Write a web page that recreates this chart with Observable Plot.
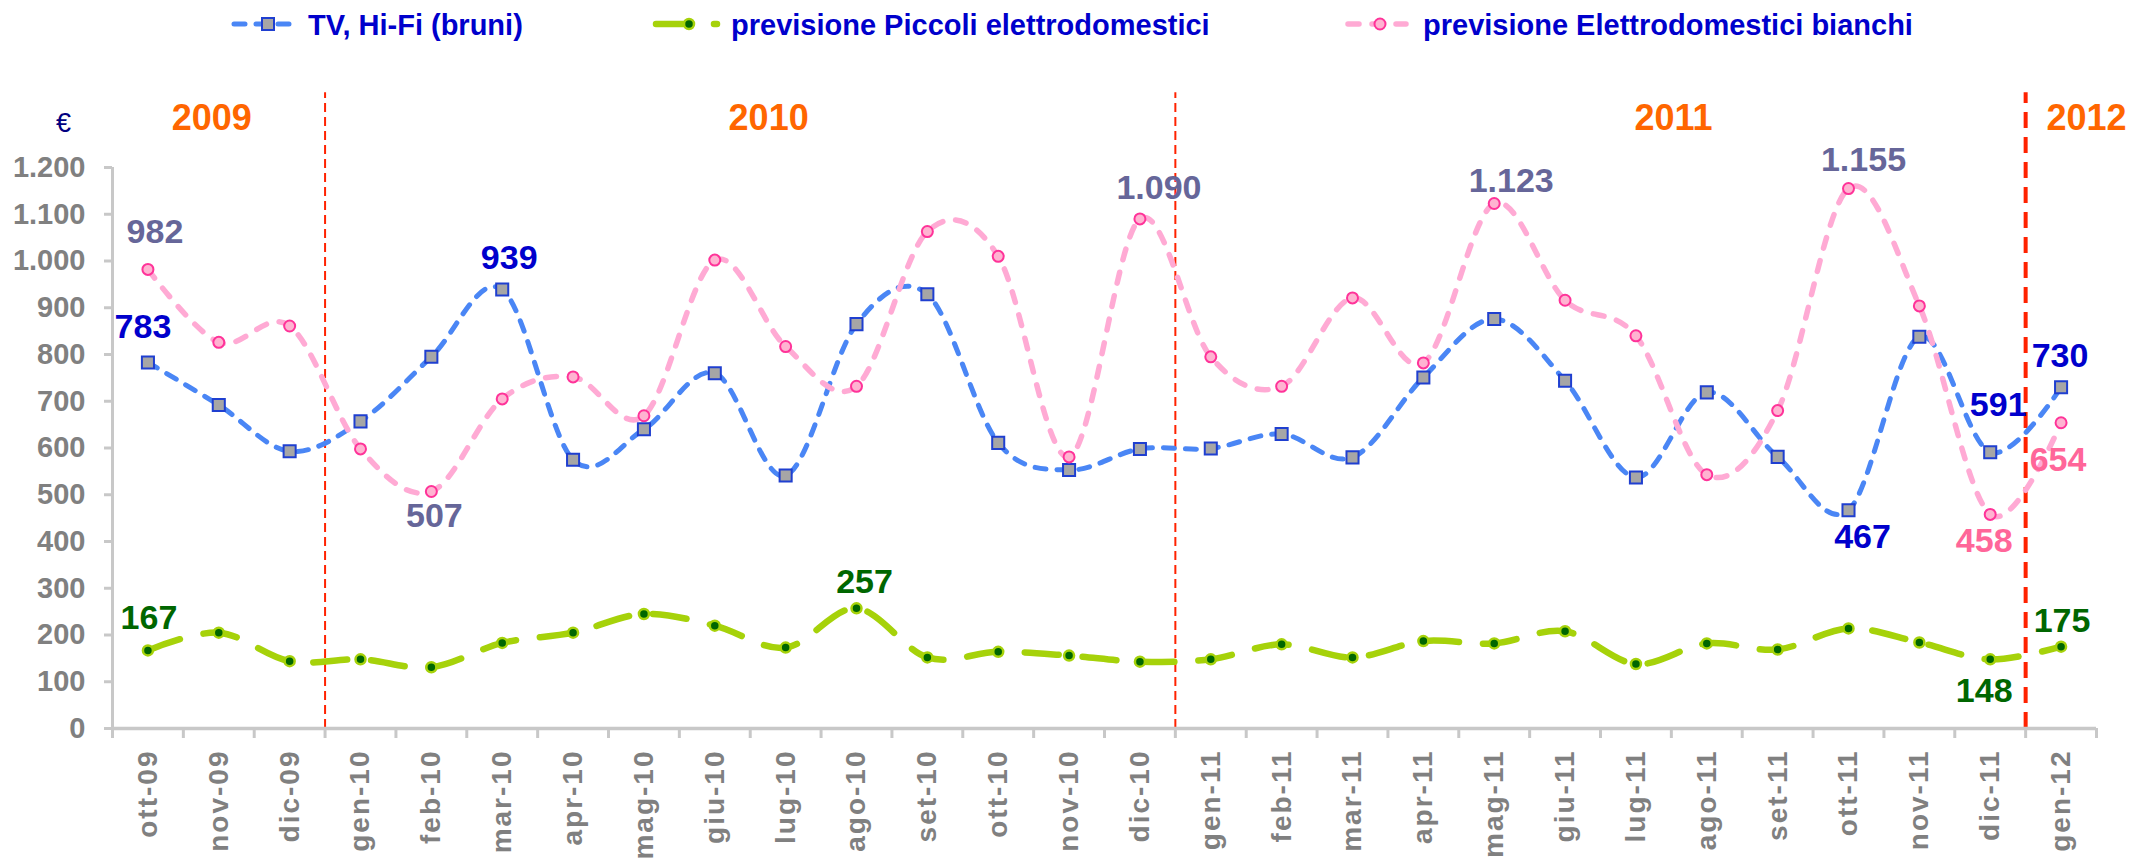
<!DOCTYPE html>
<html><head><meta charset="utf-8">
<script src="https://cdn.jsdelivr.net/npm/d3@7"></script>
<script src="https://cdn.jsdelivr.net/npm/@observablehq/plot@0.6"></script>
<style>
body{margin:0;background:#fff;font-family:"Liberation Sans",Arial,sans-serif;}
#legend,#chart{width:2133px;display:block;}
svg{display:block;}
</style></head><body>
<div id="legend"></div>
<div id="chart"></div>
<script>
// ---------- DATA ----------
const months = ["ott-09","nov-09","dic-09","gen-10","feb-10","mar-10","apr-10","mag-10","giu-10","lug-10","ago-10","set-10","ott-10","nov-10","dic-10","gen-11","feb-11","mar-11","apr-11","mag-11","giu-11","lug-11","ago-11","set-11","ott-11","nov-11","dic-11","gen-12"];
const tvHifi  = [783,692,593,657,795,939,575,640,760,541,865,929,611,553,598,599,630,580,751,876,744,537,719,581,467,838,591,730];
const piccoli = [167,205,144,148,131,183,205,245,220,173,257,152,164,156,143,148,180,152,187,182,208,138,182,169,214,184,148,175];
const bianchi = [982,826,861,598,507,705,752,669,1002,817,732,1063,1010,581,1090,795,732,921,782,1123,916,840,543,680,1155,904,458,654];
const seriesNames = ["TV, Hi-Fi (bruni)","previsione Piccoli elettrodomestici","previsione Elettrodomestici bianchi"];
const years = ["2009","2010","2011","2012"];
const yTicks = [0,100,200,300,400,500,600,700,800,900,1000,1100,1200];
const unit = "€";
// points carrying a value label: [series, month]
const labelled = [
  ["tv","ott-09"],["tv","mar-10"],["tv","ott-11"],["tv","dic-11"],["tv","gen-12"],
  ["bianchi","ott-09"],["bianchi","feb-10"],["bianchi","dic-10"],["bianchi","mag-11"],["bianchi","ott-11"],["bianchi","dic-11"],["bianchi","gen-12"],
  ["piccoli","ott-09"],["piccoli","ago-10"],["piccoli","dic-11"],["piccoli","gen-12"]
];

// ---------- LAYOUT / STYLE ----------
const fontFamily = '"Liberation Sans", Arial, sans-serif';
const labelOffsets = {
  "tv|ott-09":[-5,-35],"tv|mar-10":[7,-31],"tv|ott-11":[14,27],"tv|dic-11":[8,-47],"tv|gen-12":[-1,-31],
  "bianchi|ott-09":[7,-37],"bianchi|feb-10":[3,25],"bianchi|dic-10":[19,-31],"bianchi|mag-11":[17,-22],"bianchi|ott-11":[15,-28],"bianchi|dic-11":[-6,27],"bianchi|gen-12":[-3,37],
  "piccoli|ott-09":[1,-32],"piccoli|ago-10":[8,-26],"piccoli|dic-11":[-6,32],"piccoli|gen-12":[1,-26]
};
const labelColor = {"tv":"#0000cc","piccoli":"#006600","bianchi":"#666699"};
const labelColorOverride = {"bianchi|dic-11":"#ff6699","bianchi|gen-12":"#ff6699"};
const yearPos = [1.40, 9.26, 22.03, 27.86];   // in month units
const yearLabelY = 1304, boundaryTop = 1360;

const sty = {
  tv:{line:"#4a86f5", width:5, dash:"11,11", symbol:"square", r:6.8, fill:"#a6a6a6", stroke:"#1f3fd0", sw:2},
  piccoli:{line:"#a6d20a", width:6.5, dash:"34,24", symbol:"circle", r:5, fill:"#006600", stroke:"#a6d20a", sw:2.5},
  bianchi:{line:"#ffaad4", width:5.5, dash:"11,13", symbol:"circle", r:5.5, fill:"#ffb3d1", stroke:"#ff3399", sw:2}
};

const fmt = d3.formatLocale({decimal:",", thousands:".", grouping:[3], currency:["€",""]}).format(",d");
const valuesBy = {tv:tvHifi, piccoli:piccoli, bianchi:bianchi};
const rows = key => valuesBy[key].map((v,i)=>({x:i+0.5, y:v, m:months[i]}));
const boundaries = months.map((m,i)=>i).filter(i=>i>0 && months[i].slice(-2)!==months[i-1].slice(-2));

// ---------- LEGEND ----------
const lg = d3.select("#legend").append("svg").attr("width",2133).attr("height",55);
const legendItems = [
  {key:"tv", x1:234, x2:293, mx:268, tx:308},
  {key:"piccoli", x1:656, x2:717, mx:689, tx:731},
  {key:"bianchi", x1:1348, x2:1406, mx:1380, tx:1423}
];
legendItems.forEach((it,i)=>{
  const s = sty[it.key];
  lg.append("line").attr("x1",it.x1).attr("x2",it.x2).attr("y1",24).attr("y2",24)
    .attr("stroke",s.line).attr("stroke-width",s.width).attr("stroke-dasharray",s.dash).attr("stroke-linecap","round");
  if (s.symbol==="square") {
    lg.append("rect").attr("x",it.mx-6).attr("y",18).attr("width",12).attr("height",12)
      .attr("fill",s.fill).attr("stroke",s.stroke).attr("stroke-width",s.sw);
  } else {
    lg.append("circle").attr("cx",it.mx).attr("cy",24).attr("r",s.r)
      .attr("fill",s.fill).attr("stroke",s.stroke).attr("stroke-width",s.sw);
  }
  lg.append("text").attr("x",it.tx).attr("y",34.5).text(seriesNames[i])
    .attr("font-family",fontFamily).attr("font-weight","bold").attr("font-size",29).attr("fill","#0000cc");
});

// ---------- CHART ----------
const marks = [];
// red year boundaries
marks.push(Plot.ruleX(boundaries.slice(0,-1), {y1:0, y2:boundaryTop, stroke:"#ff2200", strokeWidth:2, strokeDasharray:"9,5"}));
marks.push(Plot.ruleX(boundaries.slice(-1), {y1:0, y2:boundaryTop, stroke:"#ff2200", strokeWidth:4, strokeDasharray:"16,9"}));
// axes
marks.push(Plot.axisY({ticks:yTicks, tickFormat:fmt, tickSize:8, tickPadding:19, stroke:"#c8c8c8", strokeWidth:3, fill:"#808080", fontSize:29, fontWeight:"bold", label:null}));
marks.push(Plot.ruleX([0], {y1:0, y2:1200, stroke:"#c8c8c8", strokeWidth:3}));
marks.push(Plot.axisX({ticks:d3.range(months.length+1), tickFormat:()=>"", tickSize:10, stroke:"#c8c8c8", strokeWidth:3, label:null}));
marks.push(Plot.axisX({ticks:months.map((m,i)=>i+0.5), tickFormat:d=>months[Math.floor(d)], tickSize:0, tickPadding:21, tickRotate:-90, fill:"#808080", fontSize:28, fontWeight:"bold", label:null}));
marks.push(Plot.ruleY([0], {stroke:"#c8c8c8", strokeWidth:3.5}));
// series
["tv","piccoli","bianchi"].forEach(k=>{
  const s = sty[k];
  marks.push(Plot.line(rows(k), {x:"x", y:"y", curve:"cardinal", stroke:s.line, strokeWidth:s.width, strokeDasharray:s.dash, strokeLinecap:"round"}));
  marks.push(Plot.dot(rows(k), {x:"x", y:"y", symbol:s.symbol, r:s.r, fill:s.fill, stroke:s.stroke, strokeWidth:s.sw}));
});
// value labels
labelled.forEach(([k,m])=>{
  const i = months.indexOf(m);
  const id = k+"|"+m;
  const [dx,dy] = labelOffsets[id];
  marks.push(Plot.text([{x:i+0.5, y:valuesBy[k][i]}], {x:"x", y:"y", text:d=>fmt(d.y), dx, dy,
    fill: labelColorOverride[id] || labelColor[k], fontSize:34, fontWeight:"bold"}));
});
// year labels
marks.push(Plot.text(years, {x:(d,i)=>yearPos[i], y:()=>yearLabelY, text:d=>d, fill:"#ff6600", fontSize:36, fontWeight:"bold"}));
// unit
marks.push(Plot.text([unit], {frameAnchor:"top-left", text:d=>d, dx:-49, dy:-55, fill:"#000080", fontSize:27, textAnchor:"middle"}));

const chart = Plot.plot({
  width:2133, height:807,
  marginLeft:112, marginRight:37, marginTop:112, marginBottom:134,
  x:{type:"linear", domain:[0, months.length], axis:null},
  y:{domain:[0,1200], axis:null},
  style:{fontFamily:fontFamily, overflow:"visible", background:"#fff"},
  marks
});
const monthSet = new Set(months);
d3.select(chart).selectAll("text").filter(function(){ return monthSet.has(this.textContent); })
  .style("letter-spacing","2px");
document.getElementById("chart").appendChild(chart);
</script>
</body></html>
